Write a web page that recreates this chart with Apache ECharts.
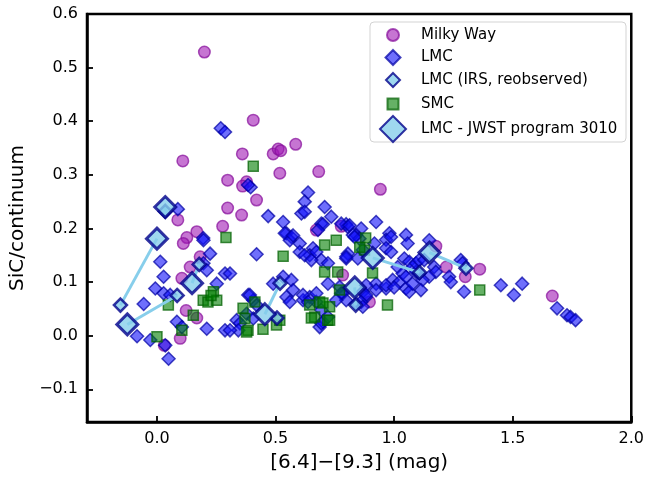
<!DOCTYPE html>
<html><head><meta charset="utf-8">
<script src="https://cdn.jsdelivr.net/npm/echarts@6/dist/echarts.min.js"></script>
<style>html,body{margin:0;padding:0;background:#fff}#c{width:647px;height:479px}</style>
</head><body><div id="c"></div>
<script>
const xTicks = [0, 0.5, 1.0, 1.5, 2.0];
const yTicks = [-0.1, 0, 0.1, 0.2, 0.3, 0.4, 0.5, 0.6];
const seriesNames = ['Milky Way', 'LMC', 'LMC (IRS, reobserved)', 'SMC', 'LMC - JWST program 3010'];

const milkyWay = [
[0.200,0.529],[0.109,0.326],[0.406,0.402],[0.360,0.339],[0.298,0.290],[0.378,0.287],[0.361,0.279],[0.420,0.253],
[0.298,0.238],[0.357,0.225],[0.277,0.204],[0.490,0.339],[0.511,0.348],[0.522,0.345],[0.585,0.357],[0.518,0.303],
[0.682,0.306],[0.168,0.194],[0.126,0.183],[0.088,0.216],[0.672,0.197],[0.777,0.204],[0.942,0.273],[1.667,0.074],
[1.220,0.128],[1.361,0.124],[1.300,0.110],[1.176,0.167],[0.896,0.063],[0.783,0.113],[0.111,0.172],[0.140,0.128],
[0.182,0.147],[0.105,0.107],[0.123,0.047],[0.168,0.033],[0.098,-0.005],[0.031,-0.018]
];

const lmc = [
[0.269,0.387],[0.287,0.380],[0.088,0.236],[0.395,0.277],[0.384,0.281],[0.469,0.223],[0.532,0.212],[0.546,0.191],
[0.567,0.184],[0.637,0.267],[0.623,0.250],[0.609,0.228],[0.623,0.231],[0.707,0.240],[0.693,0.209],[0.195,0.182],
[0.735,0.222],[0.700,0.208],[0.679,0.197],[0.798,0.208],[0.804,0.203],[0.861,0.200],[0.840,0.188],[0.777,0.209],
[0.812,0.206],[0.924,0.212],[0.980,0.191],[1.050,0.188],[1.148,0.178],[0.826,0.188],[0.854,0.181],[0.917,0.172],
[0.966,0.179],[0.987,0.184],[1.057,0.172],[0.805,0.153],[0.798,0.144],[0.966,0.163],[0.987,0.156],[1.043,0.144],
[1.064,0.138],[1.078,0.128],[1.092,0.119],[1.015,0.128],[1.036,0.116],[1.092,0.135],[1.106,0.141],[1.127,0.141],
[1.169,0.128],[1.176,0.119],[1.148,0.110],[1.120,0.104],[1.281,0.141],[1.288,0.135],[1.232,0.110],[1.239,0.100],
[1.295,0.082],[1.450,0.094],[1.540,0.097],[1.505,0.076],[1.687,0.051],[1.729,0.038],[1.744,0.035],[1.765,0.029],
[0.924,0.097],[0.966,0.088],[0.994,0.104],[1.022,0.100],[1.050,0.088],[1.064,0.082],[1.113,0.085],[1.078,0.097],
[1.050,0.110],[1.106,0.116],[0.770,0.091],[0.784,0.079],[0.798,0.066],[0.840,0.060],[0.868,0.082],[0.882,0.072],
[0.686,0.016],[0.700,0.026],[0.014,0.138],[0.028,0.110],[-0.007,0.088],[0.028,0.079],[0.056,0.076],[-0.056,0.059],
[-0.084,-0.001],[-0.028,-0.008],[0.035,-0.018],[0.049,-0.043],[0.084,0.026],[0.105,0.016],[0.210,0.013],[0.287,0.010],
[0.196,0.178],[0.224,0.153],[0.196,0.135],[0.210,0.122],[0.287,0.116],[0.252,0.097],[0.336,0.029],[0.420,0.152],
[0.385,0.076],[0.406,0.066],[0.420,0.057],[0.378,0.041],[0.406,0.032],[0.350,0.023],[0.490,0.097],[0.532,0.110],
[0.567,0.104],[0.574,0.085],[0.546,0.072],[0.560,0.063],[0.616,0.066],[0.644,0.072],[0.672,0.063],[0.693,0.048],
[0.721,0.035],[0.539,0.191],[0.560,0.178],[0.574,0.187],[0.602,0.172],[0.658,0.163],[0.644,0.150],[0.693,0.141],
[0.721,0.135],[0.602,0.156],[0.623,0.150],[0.651,0.141],[0.672,0.156],[0.798,0.147],[0.847,0.144],[0.868,0.160],
[0.833,0.184],[0.721,0.097],[0.616,0.076],[0.637,0.063],[0.672,0.079],[0.693,0.023],[0.392,0.076],[0.343,0.010],
[0.308,0.010],[0.308,0.116],[0.777,0.079],[0.756,0.066],[0.882,0.094],[0.882,0.076],[0.861,0.063],[0.868,0.054],
[0.924,0.085],[0.966,0.094],[1.000,0.090]
];

const smc = [
[0.406,0.316],[0.291,0.183],[0.532,0.148],[0.707,0.169],[0.756,0.178],[0.707,0.119],[0.762,0.119],[0.238,0.082],
[0.195,0.066],[0.215,0.063],[0.252,0.066],[0.048,0.057],[0.153,0.038],[0.105,0.010],[0.000,-0.002],[0.363,0.051],
[0.371,0.032],[0.413,0.063],[0.384,0.010],[0.447,0.012],[0.504,0.020],[0.518,0.029],[0.378,0.007],[0.644,0.057],
[0.686,0.063],[0.665,0.035],[0.728,0.054],[0.720,0.029],[0.770,0.085],[0.909,0.117],[0.972,0.057],[1.361,0.085],
[0.880,0.182],[0.875,0.160],[0.855,0.165],[0.728,0.029],[0.700,0.061],[0.651,0.033],[0.228,0.075]
];

// JWST program 3010 and their paired IRS re-observations (same order)
const jwst = [
[0.035,0.240],[0.000,0.181],[-0.125,0.021],[0.148,0.098],[0.455,0.040],[0.834,0.090],[0.910,0.145],[1.149,0.155]
];
const irsPaired = [
[0.035,0.232],[-0.154,0.057],[0.085,0.075],[0.178,0.133],[0.519,0.098],[0.838,0.057],[1.107,0.118],[1.303,0.126]
];
const irsExtra = [[0.506,0.033]];

const FONT = 'DejaVu Sans';
const chart = echarts.init(document.getElementById('c'), null, {renderer: 'canvas'});

const linkSeries = jwst.map((p, i) => ({
  type: 'line', data: [p, irsPaired[i]], showSymbol: false, symbol: 'none',
  lineStyle: {color: '#87ceeb', width: 3}, z: 4, silent: true
}));

const fmt = v => (v < 0 ? '\u2212' + Math.abs(v).toFixed(1) : v.toFixed(1));

// legend layout: icon centre x, row centres y, icon sizes
const legIconX = 392, legTextX = 420, LH = 16;
const legRowY = [35, 57, 80, 104, 128];
const legSize = [12, 15, 14, 11, 26];
const legends = seriesNames.map((nm, i) => {
  const s = legSize[i];
  return {
    data: [nm], orient: 'vertical', padding: 0,
    left: legIconX - s / 2, top: legRowY[i] - Math.max(s, LH) / 2,
    itemWidth: s, itemHeight: s, z: 5,
    textStyle: {fontFamily: FONT, fontSize: 15, lineHeight: LH, color: '#000',
                padding: [0, 0, 0, legTextX - (legIconX + s / 2 + 5)]}
  };
});

chart.setOption({
  animation: false,
  backgroundColor: '#fff',
  grid: {left: 87, right: 14, top: 14, bottom: 57, show: true, borderColor: '#000', borderWidth: 2.5, backgroundColor: 'transparent'},
  graphic: [{
    type: 'rect', shape: {x: 370, y: 22, width: 256, height: 120, r: 4},
    style: {fill: 'rgba(255,255,255,0.85)', stroke: '#d3d3d3', lineWidth: 1}, z: 3
  }],
  legend: legends,
  xAxis: {
    type: 'value', min: -0.295, max: 2.0,
    name: '[6.4]\u2212[9.3] (mag)', nameLocation: 'middle', nameGap: 31,
    nameTextStyle: {fontFamily: FONT, fontSize: 20, color: '#000'},
    axisLine: {show: true, onZero: false, lineStyle: {color: '#000', width: 2.5}},
    axisTick: {show: true, inside: true, length: 6, customValues: xTicks, lineStyle: {color: '#000', width: 1.8}},
    axisLabel: {customValues: xTicks, formatter: fmt, margin: 9, fontFamily: FONT, fontSize: 16, color: '#000'},
    splitLine: {show: false}
  },
  yAxis: {
    type: 'value', min: -0.161, max: 0.6,
    name: 'SiC/continuum', nameLocation: 'middle', nameGap: 56,
    nameTextStyle: {fontFamily: FONT, fontSize: 20, color: '#000'},
    axisLine: {show: true, onZero: false, lineStyle: {color: '#000', width: 2.5}},
    axisTick: {show: true, inside: true, length: 6, customValues: yTicks, lineStyle: {color: '#000', width: 1.8}},
    axisLabel: {customValues: yTicks, formatter: fmt, margin: 9, fontFamily: FONT, fontSize: 16, color: '#000'},
    splitLine: {show: false}
  },
  series: [
    {name: seriesNames[0], type: 'scatter', data: milkyWay, symbol: 'circle', symbolSize: 11.5, z: 2,
     itemStyle: {color: 'rgba(160,25,180,0.75)', borderColor: 'rgba(135,15,155,0.9)', borderWidth: 1.5}},
    {name: seriesNames[1], type: 'scatter', data: lmc, symbol: 'diamond', symbolSize: 13, z: 2,
     itemStyle: {color: 'rgba(15,15,250,0.75)', borderColor: 'rgba(0,0,165,0.9)', borderWidth: 1.5}},
    {name: seriesNames[3], type: 'scatter', data: smc, symbol: 'rect', symbolSize: 10, z: 3,
     itemStyle: {color: 'rgba(0,125,0,0.75)', borderColor: 'rgba(0,95,0,0.9)', borderWidth: 1.5}},
    ...linkSeries,
    {name: seriesNames[2], type: 'scatter', data: irsPaired.concat(irsExtra), symbol: 'diamond', symbolSize: 13, z: 5,
     itemStyle: {color: '#87ceeb', borderColor: '#00008b', borderWidth: 2.5}},
    {name: seriesNames[4], type: 'scatter', data: jwst, symbol: 'diamond', symbolSize: 21, z: 6,
     itemStyle: {color: '#87ceeb', borderColor: '#00008b', borderWidth: 3}}
  ]
});
</script></body></html>
